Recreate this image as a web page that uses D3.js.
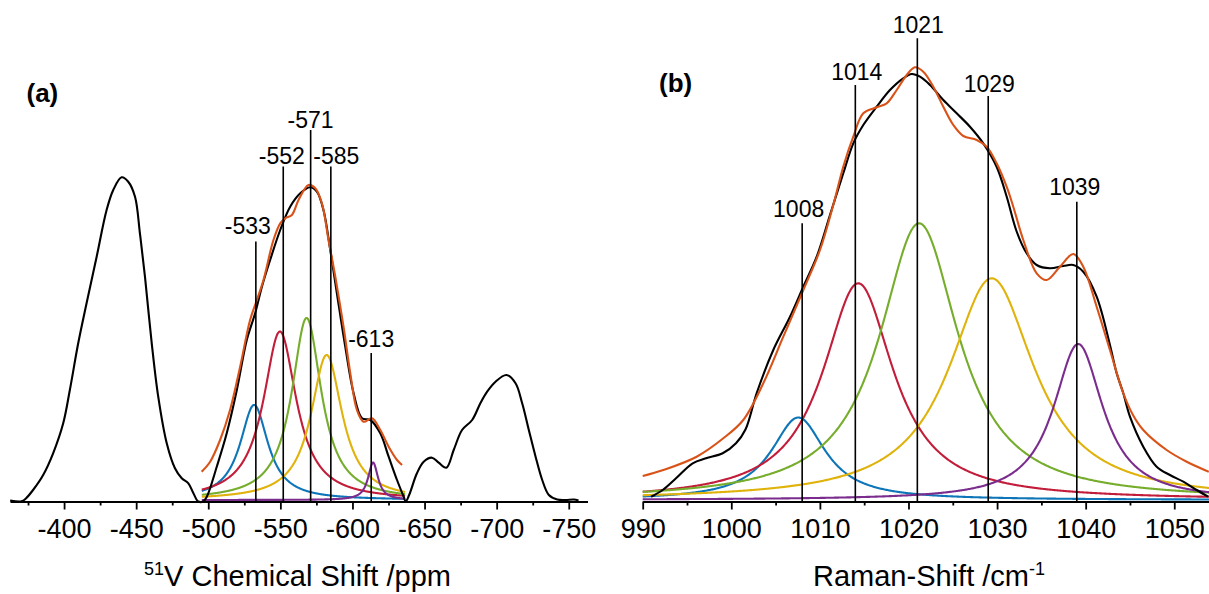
<!DOCTYPE html>
<html>
<head>
<meta charset="utf-8">
<script src="https://cdn.jsdelivr.net/npm/d3@7"></script>
<style>
  html, body { margin: 0; padding: 0; background: #fff; }
  svg { display: block; }
  text { font-family: "Liberation Sans", Arial, Helvetica, sans-serif; fill: #000; }
</style>
</head>
<body>
<svg id="chart" width="1209" height="594"></svg>
<script>
// ---------------- DATA ----------------
// (a) 51V NMR: measured spectrum [ppm, intensity a.u.]
const nmrMeasured = [
  [-362.6,1],[-370.5,0.2],[-373.5,3],[-378.5,11.5],[-385.5,26.5],[-392.4,48.2],[-399.4,78.2],
  [-404.0,111.5],[-409.8,158.2],[-415.6,198.2],[-422.6,244.8],[-429.5,291.5],[-434.1,311.5],
  [-439.9,324.2],[-444.5,319.8],[-449.2,304.8],[-452.6,268.2],[-456.1,224.8],[-460.8,158.2],
  [-465.3,104.8],[-471.2,58.2],[-476.9,33.2],[-481.6,23.2],[-486.2,18.2],[-489.7,8.2],[-493.1,0],
  [-496.4,0],[-499.0,4.8],[-505.9,34.8],[-512.8,68.2],[-519.8,111.5],[-526.7,161.5],[-532.5,188.2],
  [-537.2,214.8],[-542.9,241.5],[-549.9,271.5],[-556.8,294.8],[-563.8,308.2],[-570.7,314.2],
  [-575.3,309.8],[-579.9,291.5],[-584.6,251.5],[-589.2,208.2],[-595.0,154.8],[-600.8,108.2],
  [-606.6,83.2],[-612.4,81.5],[-619.3,68.2],[-625.1,44.8],[-630.9,21.5],[-635.5,4.8],[-636.9,0],
  [-639.3,6.5],[-644.7,28.2],[-649.4,39.8],[-655.2,43.8],[-659.8,38.8],[-665.1,33.8],[-670.2,51.5],
  [-676.0,71.5],[-683.0,81.5],[-688.7,98.2],[-693.4,109.8],[-699.2,119.8],[-706.8,126.5],
  [-713.1,118.2],[-717.7,98.2],[-722.3,71.5],[-727.0,44.8],[-731.6,21.5],[-736.2,6.5],[-742.0,2],
  [-747.8,1.5],[-753.5,2],[-756.8,1]
];
// (a) cumulative fit [ppm, intensity]
const nmrFit = [
  [-495.4,29.8],[-501.3,39.8],[-508.2,61.5],[-515.1,91.5],[-522.1,134.8],[-529.0,181.5],
  [-533.7,201.5],[-538.3,221.5],[-545.2,261.5],[-549.9,278.2],[-553.3,283.2],[-558.0,286.5],
  [-562.6,301.5],[-569.5,316.5],[-574.2,313.2],[-578.8,298.2],[-583.4,261.5],[-588.1,224.8],
  [-593.8,174.8],[-598.5,128.2],[-603.1,91.5],[-607.7,79.8],[-613.5,83.2],[-619.3,71.5],
  [-625.1,54.8],[-630.9,41.5],[-634.4,36.5]
];
// (a) fitted Lorentzian components: centre (ppm), height, half width (ppm)
const nmrCentres = [-531.8, -549.7, -568.2, -582.1, -614.3];
const nmrHeights = [95, 168.5, 182, 145, 37.5];
const nmrHalfWidths = [11.8, 13.9, 12.5, 13.2, 4.2];
const nmrFitRange = [-495.5, -636.5];
const nmrPeakLabels = [-533, -552, -571, -585, -613];
const nmrTicks = [-400, -450, -500, -550, -600, -650, -700, -750];
const nmrMinorTicks = [-375, -425, -475, -525, -575, -625, -675, -725];

// (b) Raman: measured spectrum [cm-1, intensity]
const ramanMeasured = [
  [990.94,4.8],[992.26,11.5],[993.76,23.2],[995.64,38.2],[997.14,43.2],[999.03,48.2],[1000.53,58.2],
  [1001.6,72],[1002.87,108.5],[1004.74,151.5],[1006.63,184.8],[1008.13,214.8],[1009.64,244.8],
  [1011.14,286.5],[1012.64,328.2],[1013.77,358.2],[1014.90,376.5],[1016.41,394.8],[1017.91,411.5],
  [1019.41,423.2],[1020.36,427.5],[1021.30,424.8],[1022.43,416.5],[1023.93,401.5],[1025.44,388.2],
  [1026.94,374.8],[1028.44,358.2],[1029.95,334.8],[1031.08,305],[1032.21,270],[1033.34,248.2],
  [1034.47,236.5],[1035.97,233.2],[1037.47,235.5],[1038.60,236.5],[1039.73,229.8],[1041.24,204.8],
  [1042.74,156.5],[1043.50,128.2],[1044.24,108.5],[1045.00,84.8],[1046.50,54.8],[1048.01,34.8],
  [1049.51,26.5],[1051.02,19.8],[1052.53,11.5],[1053.84,4.8]
];
// (b) cumulative fit
const ramanFit = [
  [990.0,25.5],[992.33,31.5],[996.09,44.8],[999.10,63.2],[1001.35,81.5],
  [1003.61,118.2],[1005.87,164.8],[1008.13,211.5],[1010.01,251.5],[1011.51,296.5],[1012.64,334.8],
  [1013.77,364.8],[1014.90,388.2],[1016.41,394.2],[1017.54,398.2],[1018.67,411.5],[1019.80,426.5],
  [1020.73,434.2],[1021.67,429.8],[1022.80,414.8],[1023.93,394.8],[1025.06,376.5],[1026.19,365.5],
  [1027.70,361.5],[1028.83,354.8],[1029.95,338.2],[1031.08,314.8],[1031.83,294.8],[1032.96,261.5],
  [1034.47,228.2],[1035.60,221.5],[1037.10,234.8],[1038.60,247.5],[1039.73,234.8],[1041.24,194.8],
  [1042.74,151.5],[1044.24,108.5],[1045.34,86.5],[1046.50,71.5],[1049.14,51.5],[1051.40,39.8],
  [1053.90,29.8]
];
// (b) fitted Lorentzian components
const ramanCentres = [1007.56, 1014.33, 1021.2, 1029.39, 1039.16];
const ramanHeights = [82.5, 216.7, 276.7, 221.7, 156];
const ramanHalfWidths = [3.72, 4.85, 5.42, 5.87, 3.39];
const ramanFitRange = [990, 1054];
const ramanPeakLabels = [1008, 1014, 1021, 1029, 1039];
const ramanTicks = [990, 1000, 1010, 1020, 1030, 1040, 1050];
const ramanMinorTicks = [995, 1005, 1015, 1025, 1035, 1045];

const componentBase = 1.5;

// ---------------- STYLE / LAYOUT ----------------
const compColors = ["#0e76b8", "#c21d3a", "#76ad2c", "#e0b30c", "#7b2d8e"];
const fitColor = "#d95319";
const axisY = 501.5;
const yScale = d3.scaleLinear().domain([0, 400]).range([axisY, axisY - 400]);

const svg = d3.select("#chart");

function lorentz(x, c, h, w) { const t = (x - c) / w; return h / (1 + t * t); }

function drawPanel(o) {
  const g = svg.append("g");
  const x = d3.scaleLinear().domain(o.domain).range(o.range);
  const line = d3.line().x(d => x(d[0])).y(d => yScale(d[1]));

  // components
  const [lo, hi] = o.fitRange;
  const nS = 600;
  const xs = d3.range(nS + 1).map(i => lo + (hi - lo) * i / nS);
  o.centres.forEach((c, i) => {
    const pts = xs.map(v => [v, componentBase + lorentz(v, c, o.heights[i], o.widths[i])]);
    g.append("path").attr("d", line(pts)).attr("fill", "none")
      .attr("stroke", compColors[i]).attr("stroke-width", 2.1);
  });

  const smooth = d3.line().x(d => x(d[0])).y(d => yScale(d[1])).curve(d3.curveCatmullRom.alpha(0.5));
  // measured
  g.append("path").attr("d", smooth(o.measured)).attr("fill", "none")
    .attr("stroke", "#000").attr("stroke-width", 2.1).attr("stroke-linejoin", "round");
  // fit
  g.append("path").attr("d", smooth(o.fit)).attr("fill", "none")
    .attr("stroke", fitColor).attr("stroke-width", 2.1).attr("stroke-linejoin", "round");

  // peak markers
  o.labels.forEach((p, i) => {
    const L = o.labelLayout[i];
    g.append("line").attr("x1", x(p)).attr("x2", x(p))
      .attr("y1", L.lineTop).attr("y2", axisY)
      .attr("stroke", "#000").attr("stroke-width", 1.6);
    g.append("text").attr("x", x(p) + L.dx).attr("y", L.textY)
      .attr("text-anchor", "middle").style("font-size", "23px")
      .text(o.fmt(p));
  });

  // axis
  const ax = g.append("g").attr("transform", `translate(0,${axisY})`);
  ax.call(d3.axisBottom(x).tickValues(o.ticks).tickSize(8).tickSizeOuter(0)
      .tickPadding(9).tickFormat(o.fmt));
  ax.select(".domain").attr("stroke-width", 2);
  ax.selectAll(".tick line").attr("stroke-width", 1.8);
  ax.selectAll(".tick text").style("font-size", "27px")
    .style("font-family", '"Liberation Sans", Arial, sans-serif');
  const mx = g.append("g").attr("transform", `translate(0,${axisY})`);
  mx.call(d3.axisBottom(x).tickValues(o.minor).tickSize(4).tickSizeOuter(0).tickFormat(""));
  mx.select(".domain").remove();
  mx.selectAll(".tick line").attr("stroke-width", 1.8);

  // axis title
  const t = g.append("text").attr("x", o.titleX).attr("y", 586)
    .attr("text-anchor", "middle").style("font-size", "29px");
  o.title(t);

  // panel letter
  g.append("text").attr("x", o.letterX).attr("y", o.letterY)
    .style("font-size", "26px").style("font-weight", "bold").text(o.letter);
}

drawPanel({
  domain: [-362.5, -763], range: [10, 587.5],
  measured: nmrMeasured, fit: nmrFit,
  centres: nmrCentres, heights: nmrHeights, widths: nmrHalfWidths, fitRange: nmrFitRange,
  labels: nmrPeakLabels,
  labelLayout: [
    {dx: -8, textY: 233.5, lineTop: 241.5},
    {dx: -1.5, textY: 163.5, lineTop: 166.5},
    {dx: 0, textY: 128, lineTop: 130},
    {dx: 5.5, textY: 163.5, lineTop: 166.5},
    {dx: 0, textY: 347, lineTop: 353}
  ],
  ticks: nmrTicks, minor: nmrMinorTicks,
  fmt: v => String(v),
  titleX: 297.5,
  title: t => {
    t.append("tspan").style("font-size", "18px").attr("dy", "-11").text("51");
    t.append("tspan").attr("dy", "11").text("V Chemical Shift /ppm");
  },
  letter: "(a)", letterX: 26.5, letterY: 102
});

drawPanel({
  domain: [990, 1054], range: [642.7, 1209.7],
  measured: ramanMeasured, fit: ramanFit,
  centres: ramanCentres, heights: ramanHeights, widths: ramanHalfWidths, fitRange: ramanFitRange,
  labels: ramanPeakLabels,
  labelLayout: [
    {dx: -3.5, textY: 216.7, lineTop: 223.3},
    {dx: 1.5, textY: 80, lineTop: 85},
    {dx: 1, textY: 33.3, lineTop: 38.3},
    {dx: 1, textY: 91.7, lineTop: 96},
    {dx: -2, textY: 195, lineTop: 201.7}
  ],
  ticks: ramanTicks, minor: ramanMinorTicks,
  fmt: v => String(v),
  titleX: 929,
  title: t => {
    t.append("tspan").text("Raman-Shift /cm");
    t.append("tspan").style("font-size", "18px").attr("dy", "-11").text("-1");
  },
  letter: "(b)", letterX: 659, letterY: 92
});
</script>
</body>
</html>
